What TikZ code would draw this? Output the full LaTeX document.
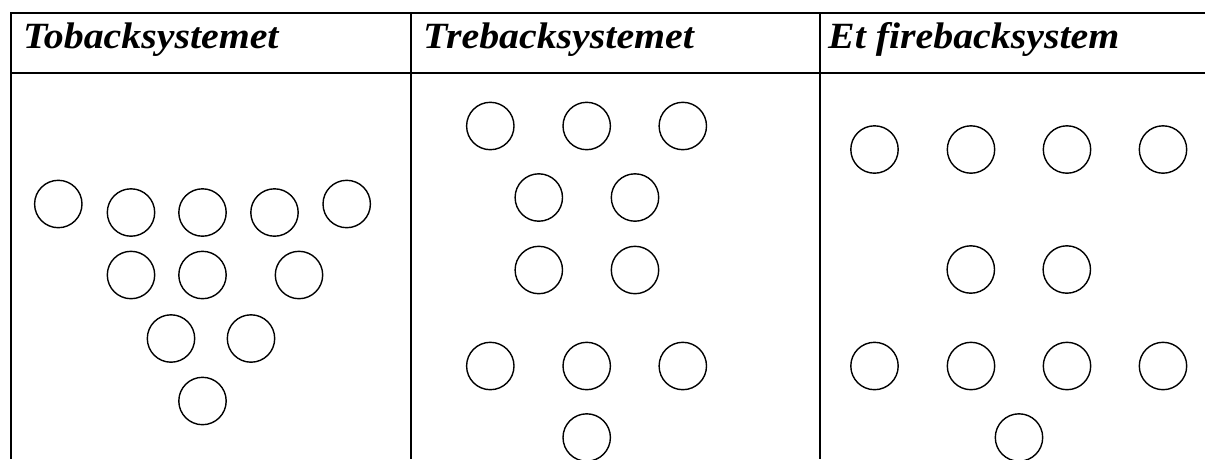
\documentclass[tikz,border=0pt]{standalone}
\usepackage{graphicx}
\usepackage{fontspec}
\setmainfont{Liberation Serif}
\begin{document}
\begin{tikzpicture}[x=1pt,y=-1pt,
  pin/.style={circle,draw,line width=1.4pt,minimum size=47.4pt,inner sep=0pt},
  rule/.style={line width=2pt},
  head/.style={anchor=base west,inner sep=0pt,font=\fontsize{37}{42}\selectfont\bfseries\itshape}]
\useasboundingbox (0,0) rectangle (1205,459);
% table rules
\coordinate (tl) at (10,13);
\coordinate (tr) at (1205,13);
\coordinate (hl) at (10,73.3);
\coordinate (hr) at (1205,73.3);
\draw[rule] (tl) -- (tr);
\draw[rule] (hl) -- (hr);
\coordinate (v0t) at (11,12); \coordinate (v0b) at (11,459);
\coordinate (v1t) at (411,12); \coordinate (v1b) at (411,459);
\coordinate (v2t) at (820,12); \coordinate (v2b) at (820,459);
\draw[rule] (v0t) -- (v0b);
\draw[rule] (v1t) -- (v1b);
\draw[rule] (v2t) -- (v2b);
% headers
\node[head] (h1) at (23,48.3) {\scalebox{1.077}[1]{Tobacksystemet}};
\node[head] (h2) at (423,48.3) {\scalebox{1.077}[1]{Trebacksystemet}};
\node[head] (h3) at (828,48.3) {\scalebox{1.077}[1]{Et firebacksystem}};
% column 1
\node[pin] (a1) at (58.3,204) {};
\node[pin] (a2) at (131,212.5) {};
\node[pin] (a3) at (202.5,212.5) {};
\node[pin] (a4) at (274.5,212.5) {};
\node[pin] (a5) at (346.7,204) {};
\node[pin] (a6) at (131,275) {};
\node[pin] (a7) at (202.5,275) {};
\node[pin] (a8) at (299,275) {};
\node[pin] (a9) at (171,338.5) {};
\node[pin] (a10) at (251,338.5) {};
\node[pin] (a11) at (202.5,401) {};
% column 2
\node[pin] (b1) at (490.3,126) {};
\node[pin] (b2) at (586.7,126) {};
\node[pin] (b3) at (682.8,126) {};
\node[pin] (b4) at (538.8,197.5) {};
\node[pin] (b5) at (635,197.5) {};
\node[pin] (b6) at (538.8,270) {};
\node[pin] (b7) at (635,270) {};
\node[pin] (b8) at (490.3,366) {};
\node[pin] (b9) at (586.7,366) {};
\node[pin] (b10) at (682.8,366) {};
\node[pin] (b11) at (586.7,437.5) {};
% column 3
\node[pin] (c1) at (874.5,149.5) {};
\node[pin] (c2) at (971,149.5) {};
\node[pin] (c3) at (1067,149.5) {};
\node[pin] (c4) at (1163,149.5) {};
\node[pin] (c5) at (970.8,269.5) {};
\node[pin] (c6) at (1066.8,269.5) {};
\node[pin] (c7) at (874.5,366) {};
\node[pin] (c8) at (971,366) {};
\node[pin] (c9) at (1067,366) {};
\node[pin] (c10) at (1163,366) {};
\node[pin] (c11) at (1019,437.5) {};
\end{tikzpicture}
\end{document}
